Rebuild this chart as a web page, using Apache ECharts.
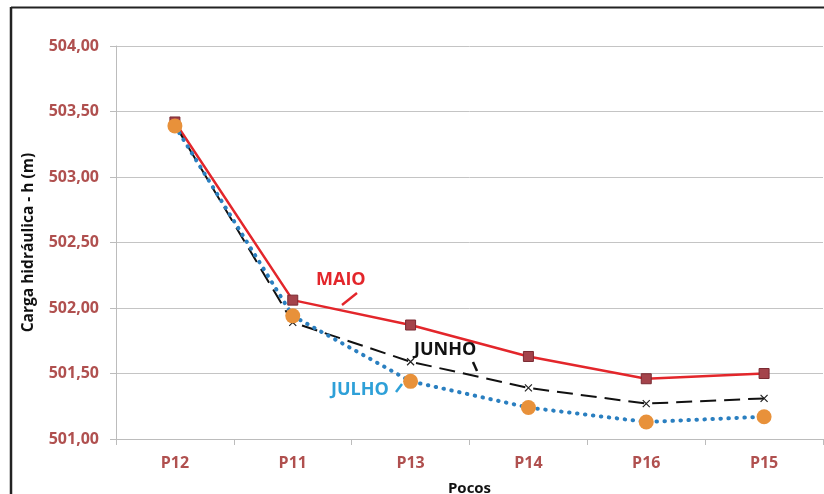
<!DOCTYPE html>
<html>
<head>
<meta charset="utf-8">
<script src="https://cdn.jsdelivr.net/npm/echarts@6/dist/echarts.min.js"></script>
<style>
  html, body { margin: 0; padding: 0; background: #fff; }
  #chart { width: 824px; height: 494px; }
</style>
</head>
<body>
<div id="chart"></div>
<script>
// Wells along the section and hydraulic head per month (m)
const wells = ['P12', 'P11', 'P13', 'P14', 'P16', 'P15'];
const maio  = [503.42, 502.06, 501.87, 501.63, 501.46, 501.50];
const junho = [503.40, 501.89, 501.59, 501.39, 501.27, 501.31];
const julho = [503.39, 501.94, 501.44, 501.24, 501.13, 501.17];

const yMin = 501, yMax = 504, yStep = 0.5;

const labelColor = '#b0504f';
const font = '"Open Sans", "Liberation Sans", sans-serif';

const chart = echarts.init(document.getElementById('chart'));

chart.setOption({
  animation: false,
  backgroundColor: '#fff',
  grid: { left: 116, right: 1, top: 46, bottom: 55, containLabel: false, outerBoundsMode: 'none' },
  xAxis: {
    type: 'category',
    data: wells,
    boundaryGap: true,
    name: 'Pocos',
    nameLocation: 'middle',
    nameGap: 42,
    nameTextStyle: { color: '#111', fontFamily: font, fontWeight: 'bold', fontSize: 15 },
    axisLine: { lineStyle: { color: '#bcbcbc', width: 1 } },
    axisTick: { show: true, alignWithLabel: false, length: 6, lineStyle: { color: '#bcbcbc' } },
    axisLabel: { color: labelColor, fontFamily: font, fontWeight: 'bold', fontSize: 16, margin: 16 }
  },
  yAxis: {
    type: 'value',
    min: yMin, max: yMax, interval: yStep,
    name: 'Carga hidráulica - h (m)',
    nameLocation: 'middle',
    nameGap: 79,
    nameRotate: 90,
    nameTextStyle: { color: '#111', fontFamily: font, fontWeight: 'bold', fontSize: 15.5 },
    axisLine: { show: true, lineStyle: { color: '#bcbcbc', width: 1 } },
    axisTick: { show: true, length: 6, lineStyle: { color: '#bcbcbc' } },
    axisLabel: {
      color: labelColor, fontFamily: font, fontWeight: 'bold', fontSize: 16, margin: 17,
      formatter: v => v.toFixed(2).replace('.', ',')
    },
    splitLine: { show: true, lineStyle: { color: '#c4c4c4', width: 1 } }
  },
  series: [
    {
      name: 'MAIO', type: 'line', data: maio, z: 3,
      lineStyle: { color: '#e3262b', width: 2.5 },
      symbol: 'rect', symbolSize: 10,
      itemStyle: { color: '#a4434b', borderColor: '#7a2a32', borderWidth: 1 }
    },
    {
      name: 'JUNHO', type: 'line', data: junho, z: 4,
      lineStyle: { color: '#111', width: 2, type: [16, 8] },
      symbol: 'path://M0,0L10,10M10,0L0,10', symbolSize: 7,
      itemStyle: { color: 'none', borderColor: '#222', borderWidth: 1.2 }
    },
    {
      name: 'JULHO', type: 'line', data: julho, z: 5,
      lineStyle: { color: '#2a7fc0', width: 4, type: [0.5, 7.5], cap: 'round' },
      symbol: 'circle', symbolSize: 15,
      itemStyle: { color: '#e8913a', borderWidth: 0 }
    }
  ],
  graphic: [
    // frame of the figure
    { type: 'line', shape: { x1: 11, y1: 7.5, x2: 824, y2: 7.5 }, style: { stroke: '#222', lineWidth: 2 }, z: 100 },
    { type: 'line', shape: { x1: 11, y1: 7, x2: 11, y2: 494 }, style: { stroke: '#222', lineWidth: 2.5 }, z: 100 },
    // series call-outs
    { type: 'text', left: 316, top: 271, style: { text: 'MAIO', fill: '#e3262b', font: 'bold 18px ' + font }, z: 50 },
    { type: 'line', shape: { x1: 342, y1: 305, x2: 357, y2: 293 }, style: { stroke: '#e3262b', lineWidth: 2.5 }, z: 50 },
    { type: 'text', left: 414, top: 341, style: { text: 'JUNHO', fill: '#111', font: 'bold 18px ' + font }, z: 50 },
    { type: 'line', shape: { x1: 473, y1: 362, x2: 477, y2: 371 }, style: { stroke: '#111', lineWidth: 2.5 }, z: 50 },
    { type: 'text', left: 331, top: 381, style: { text: 'JULHO', fill: '#2ea0d8', font: 'bold 18px ' + font }, z: 50 },
    { type: 'line', shape: { x1: 396, y1: 392, x2: 402, y2: 384 }, style: { stroke: '#2ea0d8', lineWidth: 2.5 }, z: 50 }
  ]
});
</script>
</body>
</html>
